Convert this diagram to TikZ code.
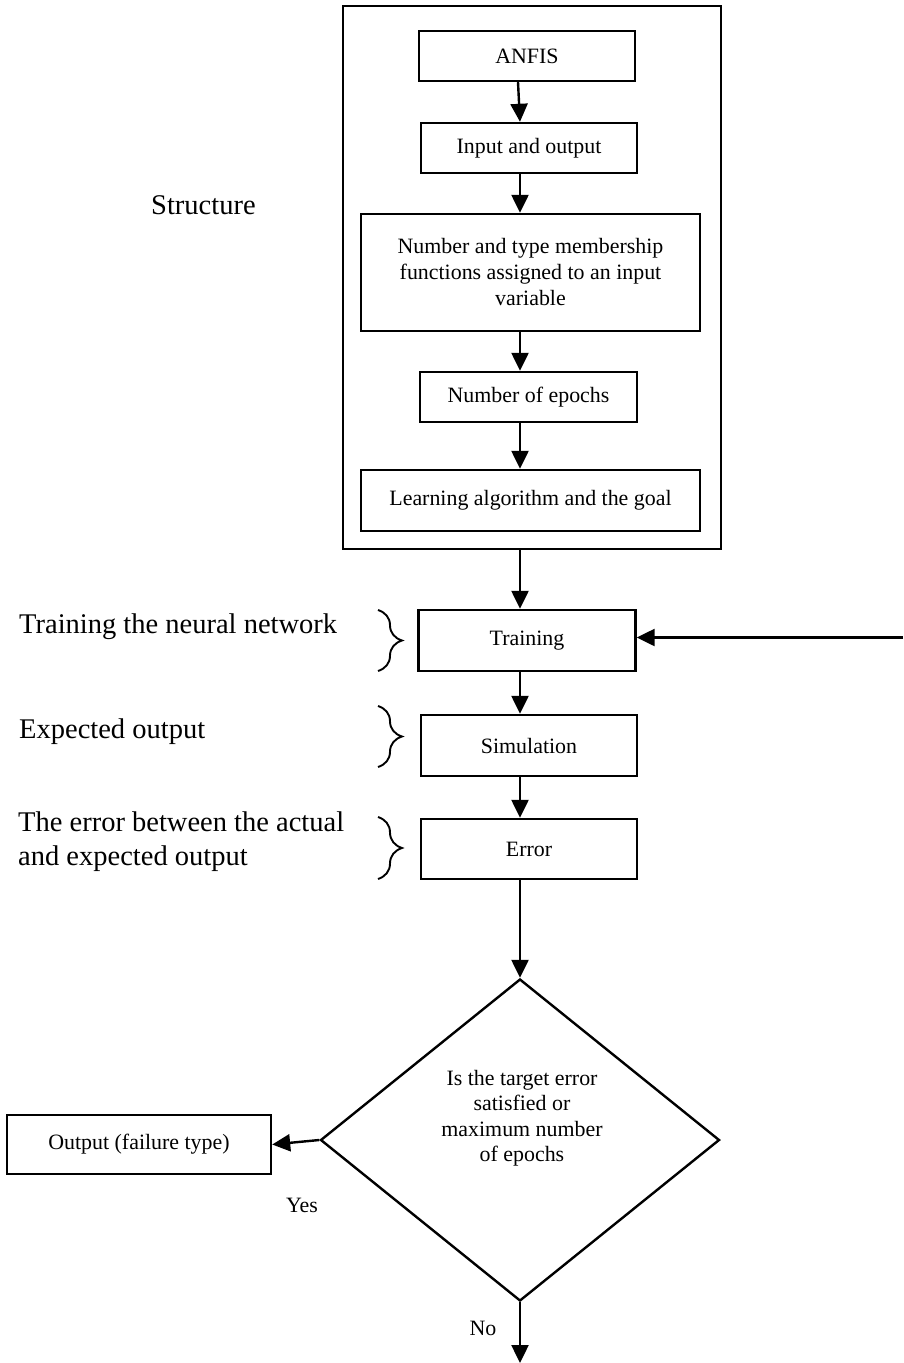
\documentclass[tikz,border=0pt]{standalone}
\usepackage{fontspec}
\setmainfont{Liberation Serif}
\usetikzlibrary{arrows.meta,shapes.geometric,decorations.pathreplacing}
\begin{document}
\begin{tikzpicture}[x=1pt,y=-1pt,
  every node/.style={inner sep=0pt},
  box/.style={draw,line width=2.4pt,font=\fontsize{21.9}{26}\selectfont,align=center},
  frame/.style={draw,line width=2.4pt},
  flow/.style={line width=2.4pt,-{Triangle[length=18pt,width=17pt]}},
  side/.style={font=\fontsize{28.5}{34}\selectfont,align=left,anchor=base west},
  small/.style={font=\fontsize{21.9}{25.5}\selectfont,align=center},
  curly/.style={line width=1.9pt,decorate,decoration={brace,amplitude=24pt}}]
\useasboundingbox (0,0) rectangle (903,1363);

% column of the vertical connectors
\coordinate (ax) at (520,0);

% structure block
\node[frame,minimum width=378pt,minimum height=543pt] (outer) at (532,277.5) {};
\node[box,minimum width=216pt,minimum height=50pt] (anfis) at (527,56) {ANFIS};
\node[box,minimum width=216pt,minimum height=50pt] (io) at (529,148) {Input and output};
\node[box,minimum width=339pt,minimum height=117pt] (mf) at (530.5,272.5)
  {Number and type membership\\functions assigned to an input\\variable};
\node[box,minimum width=217pt,minimum height=50pt] (ep) at (528.5,397) {Number of epochs};
\node[box,minimum width=339pt,minimum height=61pt] (la) at (530.5,500.5) {Learning algorithm and the goal};

% training loop
\node[box,minimum width=217pt,minimum height=61pt] (tr) at (527,640.5) {Training};
\node[box,minimum width=216pt,minimum height=61pt] (sim) at (529,745.5) {Simulation};
\node[box,minimum width=216pt,minimum height=60pt] (err) at (529,849) {Error};
\node[draw,line width=2.4pt,shape=diamond,minimum width=399pt,minimum height=322pt] (dec) at (520,1140) {};
\node[small] (dtext) at (522,1118) {Is the target error\\satisfied or\\maximum number\\of epochs};
\node[box,minimum width=264pt,minimum height=59pt] (out) at (139,1144.5) {Output (failure type)};

% side labels
\node[side] (lstruct) at (151,214) {Structure};
\node[side] (ltrain) at (19,633) {Training the neural network};
\node[side] (lsim) at (19,738) {Expected output};
\node[side] (lerr1) at (18,831) {The error between the actual};
\node[side] (lerr2) at (18,865) {and expected output};
\node[small] (yes) at (302,1205) {Yes};
\node[small] (no) at (483,1328) {No};

% braces
\draw[curly] (378,610) -- (378,671);
\draw[curly] (378,706) -- (378,767);
\draw[curly] (378,817) -- (378,879);

% connectors
\coordinate (feed) at (903,637.5);
\coordinate (exit) at (520,1363);
\draw[flow] ([xshift=-9pt]anfis.south) -- ([xshift=-9pt]io.north);
\draw[flow] (io.south -| ax) -- (mf.north -| ax);
\draw[flow] (mf.south -| ax) -- (ep.north -| ax);
\draw[flow] (ep.south -| ax) -- (la.north -| ax);
\draw[flow] (outer.south -| ax) -- (tr.north -| ax);
\draw[flow] (tr.south -| ax) -- (sim.north -| ax);
\draw[flow] (sim.south -| ax) -- (err.north -| ax);
\draw[flow] (err.south -| ax) -- (dec.north);
\draw[flow] (dec.west) -- (out.east);
\draw[flow] (dec.south) -- (exit);
\draw[flow] (feed) -- (feed -| tr.east);
\end{tikzpicture}
\end{document}
